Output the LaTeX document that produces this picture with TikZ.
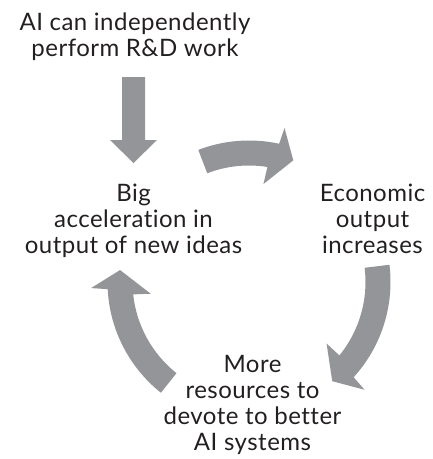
\documentclass[tikz,border=0pt]{standalone}
\usepackage{fontspec}
\setmainfont{Lato}[Ligatures={NoCommon}, LetterSpace=2]
\definecolor{arrowgray}{HTML}{939598}
\definecolor{textdark}{HTML}{231F20}
\tikzset{
  lbl/.style={align=center, anchor=base, inner sep=0pt, text=textdark,
    font=\fontsize{24}{26}\selectfont},
  blockarrow/.style={fill=arrowgray, draw=none}
}
\newcommand{\cycarrow}[3]{%
  \fill[blockarrow] (#1:141.5pt) arc[start angle=#1, end angle={#2-1.6}, radius=141.5pt]
    -- ({#2-2.3}:158pt) -- (#3:129.5pt) -- ({#2+2.3}:99pt) -- ({#2+1.6}:116.5pt)
    arc[start angle={#2+1.6}, end angle=#1, radius=116.5pt] -- cycle;}
\begin{document}
\begin{tikzpicture}[x=1pt,y=1pt]
\useasboundingbox (0,0) rectangle (433,-459);
\node[lbl] (rd) at (135,-56) {AI can independently\\perform R\&D work};
\node[lbl] (ideas) at (133.5,-253) {Big\\acceleration in\\output of new ideas};
\node[lbl] (econ) at (372.5,-253) {Economic\\output\\increases};
\node[lbl] (res) at (252.5,-450) {More\\resources to\\devote to better\\AI systems};
% straight arrow
\fill[blockarrow] (122,-77) -- (145,-77) -- (145,-140) -- (157,-140) -- (133.5,-163)
  -- (110,-140) -- (122,-140) -- cycle;
\begin{scope}[shift={(249,-282)}]
\coordinate (c) at (0,0);
\cycarrow{111}{79.3}{70}
\cycarrow{7}{-40.7}{-50}
\cycarrow{231.5}{184.5}{174.7}
\end{scope}
\end{tikzpicture}
\end{document}
